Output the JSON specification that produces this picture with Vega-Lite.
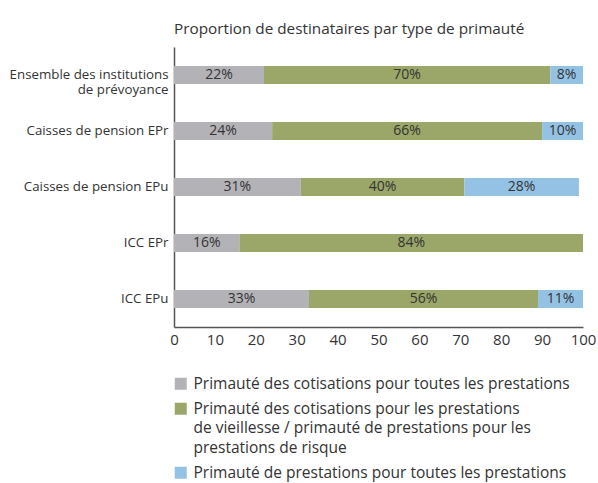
{
  "$schema": "https://vega.github.io/schema/vega-lite/v6.json",
  "width": 409,
  "height": 280,
  "autosize": {"type": "none"},
  "padding": {"left": 174, "top": 47, "right": 15, "bottom": 156},
  "background": "white",
  "title": {
    "text": "Proportion de destinataires par type de primauté",
    "anchor": "start",
    "frame": "group",
    "font": "Open Sans",
    "fontSize": 15.3,
    "fontWeight": "normal",
    "color": "#333333",
    "offset": 10
  },
  "config": {
    "view": {"stroke": null},
    "font": "Open Sans"
  },
  "data": {
    "values": [
      {"cat": "Ensemble des institutions de prévoyance", "type": "Primauté des cotisations pour toutes les prestations", "k": 1, "v": 22},
      {"cat": "Ensemble des institutions de prévoyance", "type": "Primauté des cotisations pour les prestations de vieillesse / primauté de prestations pour les prestations de risque", "k": 2, "v": 70},
      {"cat": "Ensemble des institutions de prévoyance", "type": "Primauté de prestations pour toutes les prestations", "k": 3, "v": 8},
      {"cat": "Caisses de pension EPr", "type": "Primauté des cotisations pour toutes les prestations", "k": 1, "v": 24},
      {"cat": "Caisses de pension EPr", "type": "Primauté des cotisations pour les prestations de vieillesse / primauté de prestations pour les prestations de risque", "k": 2, "v": 66},
      {"cat": "Caisses de pension EPr", "type": "Primauté de prestations pour toutes les prestations", "k": 3, "v": 10},
      {"cat": "Caisses de pension EPu", "type": "Primauté des cotisations pour toutes les prestations", "k": 1, "v": 31},
      {"cat": "Caisses de pension EPu", "type": "Primauté des cotisations pour les prestations de vieillesse / primauté de prestations pour les prestations de risque", "k": 2, "v": 40},
      {"cat": "Caisses de pension EPu", "type": "Primauté de prestations pour toutes les prestations", "k": 3, "v": 28},
      {"cat": "ICC EPr", "type": "Primauté des cotisations pour toutes les prestations", "k": 1, "v": 16},
      {"cat": "ICC EPr", "type": "Primauté des cotisations pour les prestations de vieillesse / primauté de prestations pour les prestations de risque", "k": 2, "v": 84},
      {"cat": "ICC EPu", "type": "Primauté des cotisations pour toutes les prestations", "k": 1, "v": 33},
      {"cat": "ICC EPu", "type": "Primauté des cotisations pour les prestations de vieillesse / primauté de prestations pour les prestations de risque", "k": 2, "v": 56},
      {"cat": "ICC EPu", "type": "Primauté de prestations pour toutes les prestations", "k": 3, "v": 11}
    ]
  },
  "transform": [
    {"stack": "v", "groupby": ["cat"], "sort": [{"field": "k", "order": "ascending"}], "as": ["x0", "x1"]},
    {"calculate": "(datum.x0 + datum.x1) / 2", "as": "mid"},
    {"calculate": "datum.v + '%'", "as": "lbl"}
  ],
  "encoding": {
    "y": {
      "field": "cat",
      "type": "nominal",
      "sort": ["Ensemble des institutions de prévoyance", "Caisses de pension EPr", "Caisses de pension EPu", "ICC EPr", "ICC EPu"],
      "scale": {"paddingInner": 0, "paddingOuter": 0},
      "axis": {
        "title": null,
        "ticks": false,
        "domain": true,
        "domainColor": "#555555",
        "domainWidth": 1.5,
        "labelFont": "Open Sans",
        "labelFontSize": 13.3,
        "labelColor": "#333333",
        "labelPadding": 6,
        "labelLimit": 300,
        "labelLineHeight": 15,
        "labelExpr": "datum.label == 'Ensemble des institutions de prévoyance' ? ['Ensemble des institutions', 'de prévoyance'] : datum.label"
      }
    }
  },
  "layer": [
    {
      "mark": {"type": "bar", "size": 18},
      "encoding": {
        "x": {
          "field": "x0",
          "type": "quantitative",
          "scale": {"domain": [0, 100], "nice": false},
          "axis": {
            "title": null,
            "values": [0, 10, 20, 30, 40, 50, 60, 70, 80, 90, 100],
            "grid": false,
            "ticks": false,
            "labelFlush": false,
            "domainColor": "#555555",
            "domainWidth": 1.5,
            "labelFont": "Open Sans",
            "labelFontSize": 15,
            "labelColor": "#333333",
            "labelPadding": 5
          }
        },
        "x2": {"field": "x1"},
        "color": {
          "field": "type",
          "type": "nominal",
          "scale": {
            "domain": [
              "Primauté des cotisations pour toutes les prestations",
              "Primauté des cotisations pour les prestations de vieillesse / primauté de prestations pour les prestations de risque",
              "Primauté de prestations pour toutes les prestations"
            ],
            "range": ["#b3b2b7", "#9aa768", "#93c2e4"]
          },
          "legend": {
            "title": null,
            "orient": "none",
            "legendX": -1,
            "legendY": 329,
            "symbolType": "square",
            "symbolSize": 144,
            "symbolStrokeWidth": 0,
            "labelFont": "Open Sans",
            "labelFontSize": 15.5,
            "labelColor": "#333333",
            "labelLimit": 500,
            "labelOffset": 5,
            "rowPadding": 8,
            "labelExpr": "datum.label == 'Primauté des cotisations pour les prestations de vieillesse / primauté de prestations pour les prestations de risque' ? ['Primauté des cotisations pour les prestations', 'de vieillesse / primauté de prestations pour les', 'prestations de risque'] : datum.label",
            "encode": {
              "labels": {"update": {"lineHeight": {"value": 19.5}}}
            }
          }
        }
      }
    },
    {
      "mark": {"type": "text", "font": "Open Sans", "fontSize": 14, "color": "#333333"},
      "encoding": {
        "x": {"field": "mid", "type": "quantitative"},
        "text": {"field": "lbl"}
      }
    }
  ]
}
